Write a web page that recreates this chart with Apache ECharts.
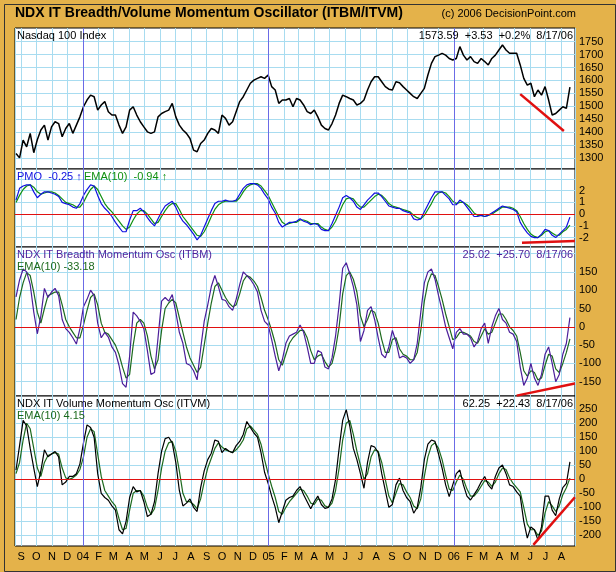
<!DOCTYPE html>
<html><head><meta charset="utf-8">
<script src="https://cdn.jsdelivr.net/npm/echarts@6/dist/echarts.min.js"></script>
<style>html,body{margin:0;padding:0;background:#E4B24A}#c{width:616px;height:572px}</style>
</head><body><div id="c"></div>
<script>
const nasdaq = [1317,1300,1369,1343,1395,1320,1370,1408,1427,1369,
1420,1440,1433,1382,1414,1433,1395,1427,1459,1498,
1524,1543,1537,1485,1505,1518,1479,1466,1466,1427,
1395,1420,1485,1498,1466,1440,1420,1401,1395,1401,
1459,1472,1479,1485,1511,1459,1427,1408,1395,1375,
1330,1324,1356,1369,1395,1414,1408,1395,1466,1453,
1427,1440,1479,1518,1537,1563,1589,1601,1608,1614,
1608,1621,1576,1563,1511,1524,1524,1530,1498,1530,
1524,1505,1479,1472,1485,1459,1427,1414,1408,1433,
1466,1511,1543,1537,1530,1524,1505,1511,1524,1563,
1595,1614,1614,1595,1576,1566,1563,1595,1591,1576,
1563,1550,1537,1530,1550,1569,1621,1666,1692,1698,
1705,1698,1685,1679,1685,1731,1698,1679,1692,1673,
1666,1685,1673,1660,1685,1698,1718,1737,1718,1705,
1705,1705,1660,1608,1582,1589,1537,1563,1543,1576,
1524,1466,1472,1485,1498,1492,1573.59];
const pmo = [1.2,2.2,2.4,2.5,2.5,1.9,1.4,1.7,1.9,1.9,
1.8,1.7,1.5,1.0,0.9,0.8,0.6,0.5,0.9,1.6,
2.1,2.5,2.4,1.6,0.9,0.5,0.2,-0.2,-0.7,-1.1,
-1.5,-1.5,-0.5,0.3,0.3,0.5,0.2,-0.3,-0.7,-1.0,
-0.4,0.2,0.7,0.9,1.1,0.6,-0.1,-0.6,-0.9,-1.3,
-1.7,-2.2,-1.8,-1.1,-0.4,0.3,0.9,1.1,1.1,1.2,
1.1,1.1,1.2,1.7,2.2,2.5,2.6,2.6,2.5,2.2,
1.7,1.3,0.6,0.1,-0.7,-1.1,-0.9,-0.7,-0.7,-0.6,
-0.4,-0.6,-0.7,-0.9,-0.8,-0.9,-1.3,-1.4,-1.4,-0.8,
-0.1,0.6,1.4,1.6,1.4,1.1,0.6,0.4,0.8,1.2,
1.5,1.8,1.8,1.5,1.1,0.7,0.6,0.5,0.5,0.3,
0.2,0.1,-0.4,-0.5,-0.4,0.2,0.8,1.4,1.9,1.9,
1.9,1.6,1.3,0.8,0.8,1.2,1.0,0.6,0.2,-0.2,
-0.2,-0.1,-0.2,-0.1,0.1,0.3,0.5,0.7,0.6,0.5,
0.4,0.2,-0.7,-1.2,-1.6,-1.9,-2.0,-2.0,-1.7,-1.3,
-1.4,-1.8,-2.0,-1.7,-1.4,-1.1,-0.25];
const pmoEma = [1.0,1.6,2.1,2.4,2.5,2.3,1.9,1.7,1.8,1.9,
1.9,1.8,1.6,1.3,1.0,0.9,0.8,0.6,0.6,1.0,
1.6,2.1,2.4,2.1,1.5,0.9,0.5,0.2,-0.2,-0.6,
-1.0,-1.3,-1.1,-0.5,0.0,0.3,0.3,0.0,-0.4,-0.8,
-0.7,-0.2,0.3,0.7,0.9,0.9,0.4,-0.2,-0.6,-1.0,
-1.4,-1.8,-1.9,-1.5,-0.9,-0.2,0.4,0.8,1.0,1.1,
1.1,1.1,1.1,1.4,1.9,2.3,2.5,2.6,2.6,2.4,
2.0,1.6,1.0,0.4,-0.2,-0.7,-0.9,-0.8,-0.7,-0.7,
-0.5,-0.5,-0.6,-0.8,-0.8,-0.8,-1.1,-1.3,-1.4,-1.1,
-0.6,0.1,0.8,1.3,1.4,1.3,0.9,0.6,0.6,0.9,
1.2,1.5,1.7,1.6,1.3,0.9,0.7,0.6,0.5,0.4,
0.3,0.2,-0.1,-0.3,-0.4,-0.1,0.4,0.9,1.5,1.8,
1.9,1.8,1.5,1.1,0.9,1.0,1.0,0.8,0.5,0.1,
-0.1,-0.1,-0.2,-0.1,0.0,0.2,0.4,0.6,0.6,0.6,
0.5,0.3,-0.2,-0.8,-1.3,-1.7,-1.9,-2.0,-1.8,-1.5,
-1.4,-1.6,-1.8,-1.8,-1.5,-1.3,-0.94];
const itbm = [82,128,158,150,115,40,-19,30,105,80,
95,105,85,20,-5,-15,-30,-47,-5,55,
75,100,85,10,-30,-15,-28,-55,-70,-105,
-155,-165,-80,40,30,15,-5,-65,-130,-125,
-30,70,80,70,88,40,-15,-45,-100,-105,
-120,-145,-60,15,60,110,140,110,75,72,
55,45,75,115,150,140,130,115,95,45,
15,5,-35,-80,-120,-90,-45,-25,-20,-15,
5,-15,-55,-100,-100,-65,-70,-110,-115,-85,
-25,60,160,175,145,110,60,-40,-10,45,
55,20,-30,-75,-85,-55,-10,-40,-85,-80,
-85,-100,-90,-45,40,120,150,158,130,85,
45,0,-30,-60,-15,-5,-20,-20,-30,-55,
-40,-5,10,-45,0,30,50,20,10,-15,
-20,-40,-110,-160,-140,-100,-140,-160,-130,-75,
-55,-100,-150,-130,-75,-45,25.02];
const itbmEma = [20,80,120,148,140,95,40,10,50,85,
90,95,95,60,20,0,-15,-30,-30,5,
45,80,90,60,10,-15,-20,-35,-50,-75,
-110,-140,-130,-50,10,20,10,-25,-80,-115,
-90,-10,50,65,75,65,25,-15,-55,-85,
-105,-125,-110,-50,10,65,110,120,100,80,
65,55,60,90,125,140,135,125,110,80,
45,20,-10,-45,-90,-105,-75,-45,-30,-20,
-10,-10,-30,-65,-90,-80,-75,-95,-110,-100,
-60,0,90,140,150,130,95,30,0,20,
45,40,10,-35,-70,-70,-35,-30,-60,-75,
-80,-90,-90,-70,-10,70,120,145,140,110,
75,35,0,-35,-30,-15,-15,-20,-25,-40,
-45,-25,-5,-20,-15,10,35,35,20,0,
-10,-25,-70,-120,-135,-120,-125,-145,-140,-105,
-75,-80,-115,-125,-100,-70,-33.18];
const itvm = [33,120,210,190,110,40,-26,30,105,80,
90,99,80,-20,-10,10,10,20,55,130,
194,185,150,20,-50,-65,-75,-95,-110,-180,
-195,-150,-65,-26,-45,-40,-80,-133,-125,-80,
20,100,145,150,130,60,-40,-95,-85,-70,
-100,-115,-30,30,70,93,140,135,95,110,
100,95,120,135,160,206,185,165,150,95,
25,-14,-60,-100,-155,-115,-75,-65,-60,-40,
-26,-55,-80,-105,-80,-60,-90,-104,-100,-70,
0,110,210,248,190,110,70,20,-32,60,
120,115,95,20,-40,-100,-90,-20,4,-40,
-65,-80,-121,-100,-30,70,125,140,135,90,
40,-20,-62,-20,20,33,-20,-60,-74,-55,
-35,-10,10,-20,-35,10,40,51,20,-20,
-26,-45,-60,-150,-210,-170,-180,-217,-170,-60,
-60,-110,-130,-70,-30,-15,62.25];
const itvmEma = [20,60,140,200,180,110,40,10,60,85,
90,95,90,40,5,0,5,15,35,80,
150,180,170,90,10,-40,-60,-80,-95,-140,
-180,-175,-110,-50,-40,-40,-60,-100,-125,-105,
-40,40,100,130,135,100,30,-50,-80,-80,
-90,-105,-70,-10,40,75,110,130,115,105,
100,95,105,120,140,180,190,175,160,125,
70,20,-25,-65,-115,-125,-100,-80,-65,-50,
-35,-40,-60,-85,-90,-70,-75,-95,-100,-85,
-40,40,140,200,210,160,100,50,0,20,
80,105,100,60,0,-60,-85,-50,-15,-20,
-45,-65,-95,-105,-70,10,80,120,130,110,
70,15,-35,-40,-10,15,0,-35,-60,-60,
-45,-25,-5,-10,-25,-10,20,40,35,5,
-15,-30,-45,-100,-160,-180,-180,-200,-185,-120,
-80,-95,-115,-95,-55,-30,4.15];
// trend lines: [weekIndex, value] endpoints
const trendNdx = [[142,1547],[154.3,1404]];
const trendPmo = [[142.5,-2.43],[157.4,-2.28]];
const trendItbm = [[141,-188],[157.4,-155]];
const trendItvm = [[145.7,-234],[157.4,-64]];
const yearLines = ['2004-01-01','2005-01-01','2006-01-01'];
const monthLetters = 'JFMAMJJASOND';

const DAY = 864e5, START = Date.UTC(2003,7,22);
const dt = i => START + i*7*DAY;
const pair = arr => arr.map((v,i)=>[dt(i),v]);
const XMIN = Date.UTC(2003,7,20), XMAX = Date.UTC(2006,7,28);
const FONT = 'Liberation Sans';
const grids = [[28,141],[169,78],[247,149],[396,150]];

const ml = (trend, zero) => ({
  silent:true, symbol:['none','none'], label:{show:false}, animation:false,
  data:[
    ...(zero?[{yAxis:0, lineStyle:{color:'#e01010',width:1,type:'solid'}}]:[]),
    ...yearLines.map(d=>({xAxis:Date.parse(d), lineStyle:{color:'#6b6be6',width:1,type:'solid'}})),
    [{coord:[dt(trend[0][0]),trend[0][1]],lineStyle:{color:'#e01010',width:2.5,type:'solid'}},{coord:[dt(trend[1][0]),trend[1][1]]}]
  ]
});

const xAxes = grids.map((g,k)=>({
  type:'time', gridIndex:k, min:XMIN, max:XMAX,
  minInterval:28*DAY, maxInterval:31*DAY,
  axisLine:{show:false}, axisTick:{show:false},
  splitLine:{show:true,lineStyle:{color:'#a8dcf0',width:1}},
  axisLabel:{show:k===3, color:'#000', fontFamily:FONT, fontSize:11, margin:5, hideOverlap:false,
    formatter:(v)=>{const d=new Date(v); const m=d.getUTCMonth(); return m===0?String(d.getUTCFullYear()).slice(2):monthLetters[m];}}
}));
function yAx(k,min,max,ticks,labels){
  return {type:'value', gridIndex:k, min, max, position:'right',
    axisLine:{show:false},
    axisTick:{show:false, customValues:ticks},
    splitLine:{show:true,lineStyle:{color:'#a8dcf0',width:1}},
    axisLabel:{customValues:labels, color:'#000', fontFamily:FONT, fontSize:11, margin:4, formatter:v=>String(v)}};
}
const r = (a,b,s)=>{const o=[];for(let v=a;v<=b+1e-9;v+=s)o.push(+v.toFixed(2));return o;};
const yAxes = [
  yAx(0,1257,1803,r(1300,1750,50),r(1300,1750,50)),
  yAx(1,-2.8,3.85,r(-2,3,1),r(-2,2,1)),
  yAx(2,-189,218,r(-150,200,50),r(-150,150,50)),
  yAx(3,-238,297,r(-200,250,50),r(-200,250,50))
];
const line = (k,data,color,w,extra)=>Object.assign({type:'line',xAxisIndex:k,yAxisIndex:k,data:pair(data),showSymbol:false,symbol:'none',
  lineStyle:{color,width:w},itemStyle:{color},animation:false,silent:true},extra||{});

const series = [
  line(0,nasdaq,'#000',1.5,{markLine:ml(trendNdx,false)}),
  line(1,pmoEma,'#109010',1.2,{markLine:ml(trendPmo,true)}),
  line(1,pmo,'#1010e0',1.2),
  line(2,itbmEma,'#1d6a1d',1.2,{markLine:ml(trendItbm,true)}),
  line(2,itbm,'#4b1e9a',1.2),
  line(3,itvmEma,'#1d6a1d',1.2,{markLine:ml(trendItvm,true)}),
  line(3,itvm,'#000',1.2)
];
const txt = (x,y,t,c,font)=>({type:'text',left:x,top:y,z:100,style:{text:t,fill:c||'#000',font:font||('11px '+FONT)}});
const txtR = (x,y,t,c)=>({type:'text',right:616-x,top:y,z:100,style:{text:t,fill:c||'#000',font:'11px '+FONT,textAlign:'right'}});
const chart = echarts.init(document.getElementById('c'),null,{renderer:'canvas'});
chart.setOption({
  useUTC:true, animation:false, backgroundColor:'#E4B24A',
  grid: grids.map(g=>({left:15,right:41,top:g[0],height:g[1],show:true,backgroundColor:'#fff',borderColor:'#000',borderWidth:1})),
  xAxis:xAxes, yAxis:yAxes, series,
  graphic:[
    {type:'rect',left:2,top:2,z:0,shape:{width:611,height:567},style:{fill:'none',stroke:'#333',lineWidth:1}},
    txt(15,6,'NDX IT Breadth/Volume Momentum Oscillator (ITBM/ITVM)','#000','bold 14px '+FONT),
    txtR(576,8,'(c) 2006 DecisionPoint.com'),
    txt(17,30,'Nasdaq 100 Index'),
    txtR(573,30,'1573.59  +3.53  +0.2%  8/17/06'),
    txt(17,171,'PMO  -0.25 \u2191','#1010e0'),
    txt(84,171,'EMA(10)  -0.94 \u2191','#109010'),
    txt(17,249,'NDX IT Breadth Momentum Osc (ITBM)','#4b1e9a'),
    txt(17,261,'EMA(10) -33.18','#1d6a1d'),
    txtR(573,249,'25.02  +25.70  8/17/06','#4b1e9a'),
    txt(17,398,'NDX IT Volume Momentum Osc (ITVM)','#000'),
    txt(17,410,'EMA(10) 4.15','#1d6a1d'),
    txtR(573,398,'62.25  +22.43  8/17/06','#000')
  ]
});
</script></body></html>
